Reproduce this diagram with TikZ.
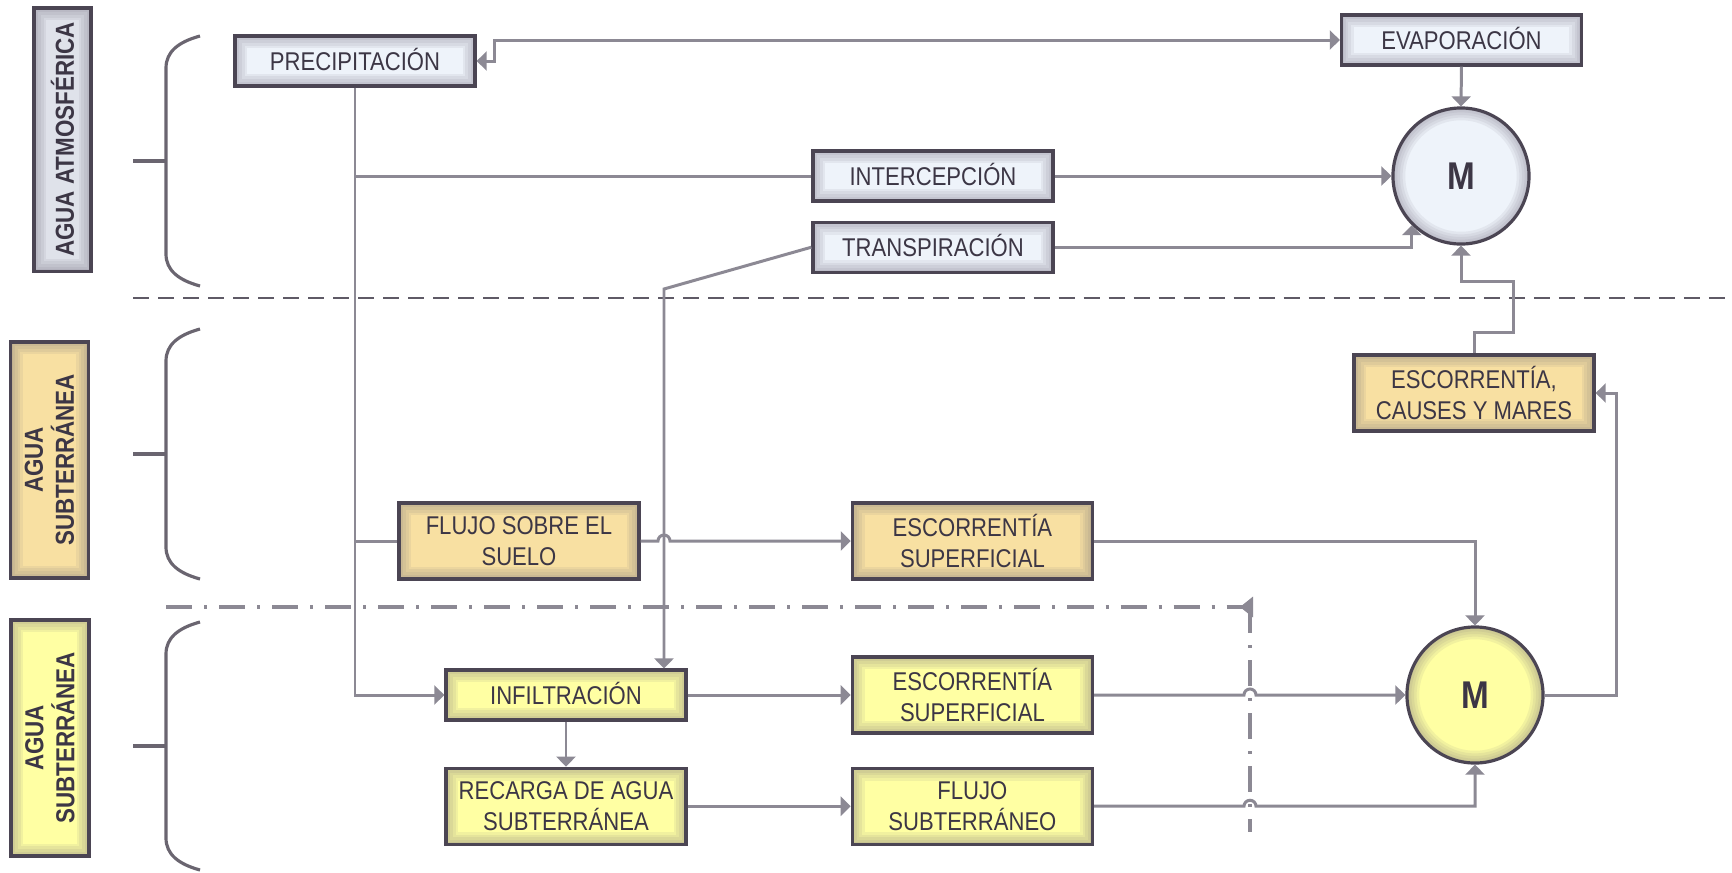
\documentclass[tikz,border=0pt]{standalone}
\usepackage{fontspec}
\setmainfont{Liberation Sans}[FakeStretch=0.86]
\usetikzlibrary{arrows.meta,positioning,calc}

\definecolor{inkc}{HTML}{3C3645}
\definecolor{rimc}{HTML}{4B4553}
\definecolor{glowc}{HTML}{6E6878}
\definecolor{linec}{HTML}{8C8994}
\definecolor{bracec}{HTML}{6A6570}
\definecolor{sepc}{HTML}{5F5A66}
\definecolor{atmc}{HTML}{EEF3FA}
\definecolor{subc}{HTML}{F8E0A2}
\definecolor{soilc}{HTML}{FFFFA3}

\tikzset{
  glowbox/.style={path picture={
    \foreach \w in {7,5.5,4,2.5,1.2}
      \draw[glowc, opacity=0.09, line width=\w pt] (path picture bounding box.south west) rectangle (path picture bounding box.north east);}},
  glowdisc/.style={path picture={
    \foreach \w in {7,5.5,4,2.5,1.2}
      \draw[glowc, opacity=0.09, line width=\w pt] (path picture bounding box.center) circle[radius=0.68cm];}}
}

\begin{document}
\begin{tikzpicture}[
  x=0.01cm, y=-0.01cm,
  >={Triangle[length=1mm,width=1.9mm]},
  stage/.style={draw=rimc, line width=0.9pt, glowbox, minimum width=2.4cm, minimum height=0.5cm, align=center, text=inkc, font=\fontsize{7.3}{9}\selectfont, inner sep=1pt},
  oneline/.style={text height=0.18cm, text depth=0pt},
  atmbox/.style={stage, oneline, fill=atmc},
  subbox/.style={stage, fill=subc, minimum height=0.76cm},
  soilbox/.style={stage, fill=soilc},
  tall/.style={minimum height=0.76cm},
  mix/.style={circle, draw=rimc, line width=0.9pt, glowdisc, minimum size=1.36cm, inner sep=0pt, text=inkc, font=\fontsize{11}{12}\selectfont\bfseries},
  zone/.style={draw=rimc, line width=0.9pt, glowbox, rotate=90, align=center, text=inkc, font=\fontsize{7.4}{8.8}\selectfont\bfseries, inner sep=1pt},
  flow/.style={draw=linec, line width=0.85pt},
  brace/.style={draw=bracec, line width=0.9pt},
  sepline/.style={draw=sepc, line width=0.8pt, dash pattern=on 0.16cm off 0.09cm},
  dashdot/.style={draw=linec, line width=1pt, dash pattern=on 0.26cm off 0.12cm on 0.03cm off 0.12cm}
]
\useasboundingbox (0,0) rectangle (1732,872);
\fill[white] (0,0) rectangle (1732,872);

\node[zone, fill=atmc!88!glowc, minimum width=2.63cm, minimum height=0.57cm] (atm) at (62.5,139.5) {AGUA ATMOSFÉRICA};
\node[zone, fill=subc, minimum width=2.36cm, minimum height=0.78cm] (sub) at (49.5,460) {AGUA\\SUBTERRÁNEA};
\node[zone, fill=soilc, minimum width=2.36cm, minimum height=0.78cm] (soil) at (50,738) {AGUA\\SUBTERRÁNEA};

\foreach \ya/\yb/\ym in {36/286/161, 329/579/454, 622/870/746} {
  \draw[brace] (200,\ya) .. controls (178,\ya+6) and (166,\ya+16) .. (166,\ya+32) -- (166,\yb-32) .. controls (166,\yb-16) and (178,\yb-6) .. (200,\yb);
  \draw[brace] (133,\ym) -- (166,\ym);
}

\draw[sepline] (133,298) -- (1732,298);
\coordinate (ddcorner) at (1250,607);
\draw[dashdot, -{Triangle[reversed,length=1.3mm,width=2mm]}] (166,607) -- ($(ddcorner)+(3,0)$);
\draw[dashdot] (ddcorner) -- (1250,832);

\node[atmbox] (precip) at (355,61) {PRECIPITACIÓN};
\node[atmbox] (evap) at (1461.5,40) {EVAPORACIÓN};
\node[atmbox] (interc) at (933,176) {INTERCEPCIÓN};
\node[atmbox, below=0.18cm of interc] (transp) {TRANSPIRACIÓN};
\node[mix, fill=atmc] (mtop) at (1461,176) {M};
\node[subbox] (causes) at (1474,393) {ESCORRENTÍA,\\CAUSES Y MARES};
\node[subbox] (flujo) at (519,541) {FLUJO SOBRE EL\\SUELO};
\node[subbox, right=2.1cm of flujo] (escsup) {ESCORRENTÍA\\SUPERFICIAL};
\node[soilbox, oneline] (infil) at (566,695) {INFILTRACIÓN};
\node[soilbox, tall, below=0.45cm of infil] (recarga) {RECARGA DE AGUA\\SUBTERRÁNEA};
\node[soilbox, tall, right=1.63cm of infil] (escsub) {ESCORRENTÍA\\SUPERFICIAL};
\node[soilbox, tall, right=1.63cm of recarga] (flujosub) {FLUJO\\SUBTERRÁNEO};
\node[mix, fill=soilc] (mbot) at (1475,695) {M};

\draw[flow,<->] (precip.east) -- ++(18,0) |- (evap.west);
\draw[flow] (precip.south) |- (interc.west);
\draw[flow] (precip.south) |- (flujo.west);
\draw[flow,->] (precip.south) |- (infil.west);
\draw[flow,->] (interc.east) -- (mtop.west);
\draw[flow,->] (transp.east) -| (mtop.south west);
\draw[flow,->] (evap.south) -- (mtop.north);
\draw[flow,->] (causes.north) -- ++(0,-21) -| ++(39,-51) -| (mtop.south);

\coordinate (tbend) at (664,289);
\draw[flow,->] (transp.west) -- (tbend) -- (tbend |- infil.north);
\draw[flow,->] (flujo.east) -- ($(tbend |- flujo.east)+(-0.06cm,0)$) arc[start angle=180, end angle=0, radius=0.06cm] -- (escsup.west);
\draw[flow,->] (escsup.east) -| (mbot.north);
\draw[flow,->] (infil.east) -- (escsub.west);
\draw[flow,->] (infil.south) -- (recarga.north);
\draw[flow,->] (recarga.east) -- (flujosub.west);
\draw[flow,->] (escsub.east) -- ($(ddcorner |- escsub.east)+(-0.06cm,0)$) arc[start angle=180, end angle=0, radius=0.06cm] -- (mbot.west);
\draw[flow,->] (flujosub.east) -- ($(ddcorner |- flujosub.east)+(-0.06cm,0)$) arc[start angle=180, end angle=0, radius=0.06cm] -| (mbot.south);
\draw[flow,->] (mbot.east) -- ++(72,0) |- (causes.east);
\end{tikzpicture}
\end{document}
